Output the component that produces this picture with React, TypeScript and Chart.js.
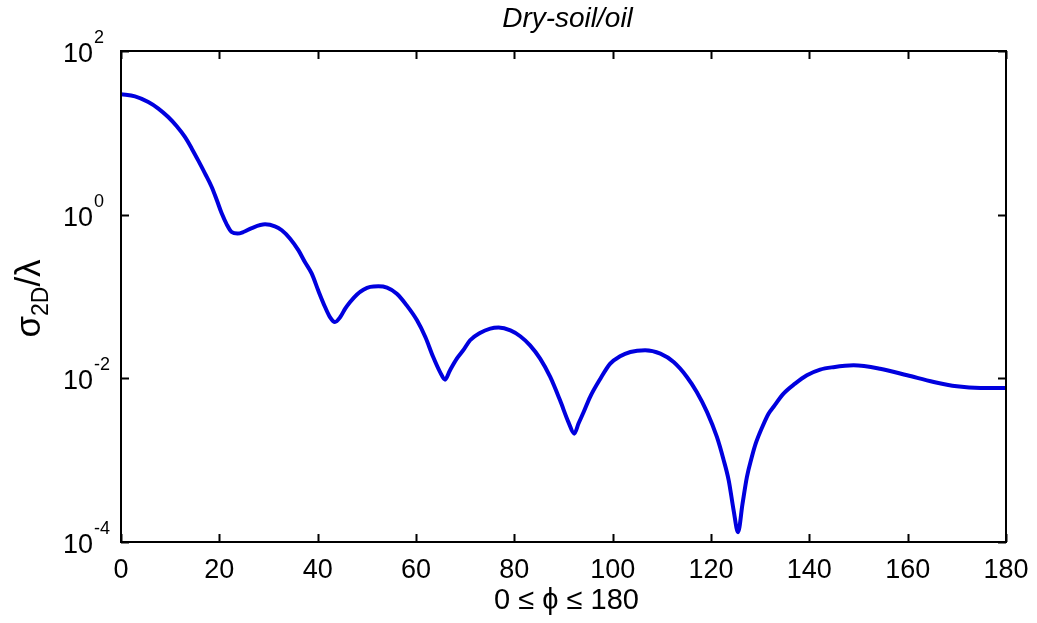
import React, { useEffect, useRef } from "react";
import { Chart, registerables } from "chart.js";

Chart.register(...registerables);

// ---- data ----
const phiDeg = [
  0, 2.85, 5.55, 7.6, 9.6, 11.3, 13.0, 14.4, 15.7, 17.1, 18.45, 19.5, 20.5, 21.5,
  22.5, 23.7, 24.9, 26.6, 29.3, 31.3, 32.7, 34.4, 36.1, 37.4, 38.8, 40.1, 41.5,
  42.5, 43.5, 44.6, 45.6, 46.6, 48.0, 49.3, 50.7, 52.35, 54.1, 56.1, 58.1, 60.2,
  61.9, 63.5, 64.9, 65.9, 66.9, 68.3, 69.7, 71.0, 73.0, 75.1, 76.8, 79.2, 81.2,
  83.2, 85.25, 87.3, 89.3, 91.0, 92.2, 93.05, 94.1, 95.4, 97.5, 99.5, 101.5, 103.6,
  106.6, 109.7, 112.4, 115.1, 117.1, 119.2, 121.2, 122.5, 123.6, 124.6, 125.5,
  126.4, 127.3, 128.3, 129.1, 130.5, 131.7, 132.7, 134.75, 137.1, 139.5, 142.2,
  144.9, 149, 154.4, 159.9, 165.3, 170, 174.8, 180,
];
const sigmaOverLambda = [
  29.6, 27.9, 23.8, 19.8, 15.6, 12.1, 8.9, 6.41, 4.61, 3.18, 2.18, 1.5, 1.03, 0.762,
  0.614, 0.587, 0.614, 0.687, 0.762, 0.721, 0.644, 0.509, 0.366, 0.264, 0.19, 0.119,
  0.0744, 0.0561, 0.0488, 0.0561, 0.0711, 0.0857, 0.106, 0.121, 0.131, 0.133, 0.128,
  0.108, 0.078, 0.0512, 0.032, 0.0182, 0.0119, 0.00964, 0.0125, 0.0174, 0.0224,
  0.0292, 0.0358, 0.0405, 0.0417, 0.0386, 0.0327, 0.0253, 0.0174, 0.0104, 0.00538,
  0.00292, 0.00211, 0.0028, 0.00387, 0.00591, 0.0099, 0.0151, 0.0186, 0.021, 0.022,
  0.02, 0.0158, 0.0104, 0.00681, 0.00387, 0.00192, 0.00104, 5.67e-4, 2.44e-4,
  1.32e-4, 2.9e-4, 6.2e-4, 0.00109, 0.0016, 0.0026, 0.0037, 0.00447, 0.0065,
  0.00861, 0.0109, 0.0128, 0.0137, 0.0144, 0.0131, 0.0109, 0.00902, 0.00798,
  0.00762, 0.00762,
];
const xTickValues = [0, 20, 40, 60, 80, 100, 120, 140, 160, 180];
const yTickValues = [1e-4, 1e-2, 1, 100];
const yTickExponents = ["-4", "-2", "0", "2"];
const titleText = "Dry-soil/oil";
const xAxisTitle = "0 \u2264 \u03d5 \u2264 180";
const yAxisTitleMain = "\u03c3";
const yAxisTitleSub = "2D";
const yAxisTitleTail = "/\u03bb";

const FONT = '"Liberation Sans", Arial, Helvetica, sans-serif';

const matlabAxes = {
  id: "matlabAxes",
  afterDraw(chart: any) {
    const { ctx, chartArea, scales } = chart;
    const { left, right, top, bottom } = chartArea;
    const xs = scales.x;
    const ys = scales.y;
    ctx.save();
    // box
    ctx.strokeStyle = "#000";
    ctx.lineWidth = 2;
    ctx.strokeRect(left, top, right - left, bottom - top);
    const tl = 8;
    ctx.beginPath();
    for (const v of xTickValues) {
      const px = Math.round(xs.getPixelForValue(v)) + 0.5;
      ctx.moveTo(px, bottom);
      ctx.lineTo(px, bottom - tl);
      ctx.moveTo(px, top);
      ctx.lineTo(px, top + tl);
    }
    for (const v of yTickValues) {
      const py = Math.round(ys.getPixelForValue(v)) + 0.5;
      ctx.moveTo(left, py);
      ctx.lineTo(left + tl, py);
      ctx.moveTo(right, py);
      ctx.lineTo(right - tl, py);
    }
    ctx.stroke();

    ctx.fillStyle = "#000";
    // x tick labels
    ctx.font = `27px ${FONT}`;
    ctx.textAlign = "center";
    ctx.textBaseline = "alphabetic";
    for (const v of xTickValues) {
      ctx.fillText(String(v), xs.getPixelForValue(v), bottom + 36);
    }
    // y tick labels 10^n
    yTickValues.forEach((v, i) => {
      const py = ys.getPixelForValue(v);
      ctx.font = `27px ${FONT}`;
      ctx.textAlign = "right";
      ctx.fillText("10", left - 28, py + 11);
      ctx.font = `18px ${FONT}`;
      ctx.textAlign = "left";
      ctx.fillText(yTickExponents[i], left - 27, py - 8);
    });
    // title
    ctx.font = `italic 28px ${FONT}`;
    ctx.textAlign = "center";
    ctx.fillText(titleText, (left + right) / 2 + 4, 27);
    // x axis title
    ctx.font = `29px ${FONT}`;
    ctx.fillText(xAxisTitle, (left + right) / 2 + 3, bottom + 67);
    // y axis title (rotated)
    ctx.save();
    ctx.translate(40, (top + bottom) / 2 + 2);
    ctx.rotate(-Math.PI / 2);
    ctx.textAlign = "left";
    ctx.font = `35px ${FONT}`;
    const w1 = ctx.measureText(yAxisTitleMain).width;
    const w3 = ctx.measureText(yAxisTitleTail).width;
    ctx.font = `23px ${FONT}`;
    const w2 = ctx.measureText(yAxisTitleSub).width;
    const total = w1 + w2 + w3;
    let cx = -total / 2;
    ctx.font = `35px ${FONT}`;
    ctx.fillText(yAxisTitleMain, cx, 0);
    cx += w1;
    ctx.font = `23px ${FONT}`;
    ctx.fillText(yAxisTitleSub, cx, 8);
    cx += w2;
    ctx.font = `35px ${FONT}`;
    ctx.fillText(yAxisTitleTail, cx, 0);
    ctx.restore();
    ctx.restore();
  },
};

export default function App() {
  const ref = useRef<HTMLCanvasElement | null>(null);
  useEffect(() => {
    document.body.style.margin = "0";
    const canvas = ref.current;
    if (!canvas) return;
    const points = phiDeg.map((p, i) => ({ x: p, y: sigmaOverLambda[i] }));
    const chart = new Chart(canvas, {
      type: "line",
      data: {
        datasets: [
          {
            data: points,
            borderColor: "rgb(0,0,222)",
            borderWidth: 4,
            pointRadius: 0,
            fill: false,
            cubicInterpolationMode: "monotone",
          },
        ],
      },
      options: {
        responsive: false,
        animation: false,
        devicePixelRatio: 1,
        layout: { padding: { left: 121, right: 31, top: 51, bottom: 81 } },
        plugins: { legend: { display: false }, tooltip: { enabled: false }, title: { display: false } },
        scales: {
          x: { type: "linear", min: 0, max: 180, display: false },
          y: { type: "logarithmic", min: 1e-4, max: 100, display: false },
        },
      },
      plugins: [matlabAxes],
    } as any);
    return () => chart.destroy();
  }, []);
  return (
    <div style={{ width: 1037, height: 623, background: "#fff" }}>
      <canvas ref={ref} width={1037} height={623} style={{ display: "block" }} />
    </div>
  );
}
